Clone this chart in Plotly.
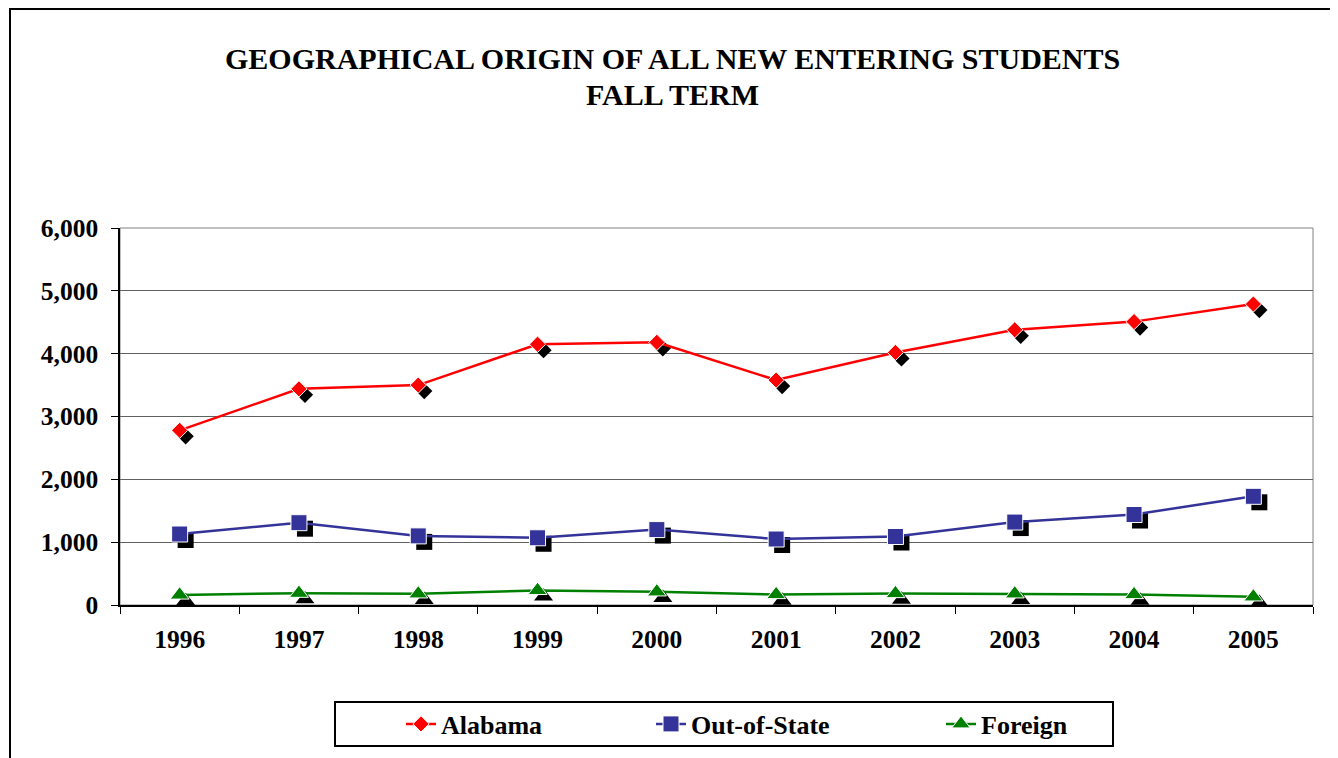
import plotly.graph_objects as go

years = ["1996", "1997", "1998", "1999", "2000", "2001", "2002", "2003", "2004", "2005"]
alabama = [2780, 3440, 3500, 4150, 4180, 3580, 4020, 4380, 4510, 4790]
out_of_state = [1130, 1310, 1100, 1070, 1200, 1050, 1090, 1320, 1440, 1730]
foreign = [160, 188, 178, 232, 210, 167, 183, 178, 167, 130]
y_ticks = [0, 1000, 2000, 3000, 4000, 5000, 6000]
title_lines = ["GEOGRAPHICAL ORIGIN OF ALL NEW ENTERING STUDENTS", "FALL TERM"]

OFF = 8  # page body margin
W, H = 1338 - OFF, 758 - OFF
ML, MR, MT, MB = 120 - OFF, 25, 228 - OFF, 153
PW, PH = W - ML - MR, H - MT - MB
YMAX = 6000
SH = 6  # shadow offset px
sx = SH / (PW / len(years))
sy = SH * YMAX / PH

FONT = "Liberation Serif, Times New Roman, Tinos, DejaVu Serif, serif"
series = [
    ("Alabama", alabama, "#FF0000", "diamond", 12.5, "legend"),
    ("Out-of-State", out_of_state, "#333399", "square", 16, "legend2"),
    ("Foreign", foreign, "#008000", "triangle-up", 16.5, "legend3"),
]

fig = go.Figure()
fig.add_trace(go.Scatter(x=years, y=alabama, mode="lines", line=dict(width=0),
                         showlegend=False, hoverinfo="skip", xaxis="x", yaxis="y"))
for name, vals, col, sym, size, lg in series:
    fig.add_trace(go.Scatter(x=years, y=vals, mode="markers",
                             marker=dict(symbol=sym, size=size, color="black"),
                             showlegend=False, hoverinfo="skip",
                             xaxis="x2", yaxis="y2"))
for name, vals, col, sym, size, lg in series:
    fig.add_trace(go.Scatter(x=years, y=vals, name=name, mode="lines+markers",
                             line=dict(color=col, width=2.5),
                             marker=dict(symbol=sym, size=size, color=col,
                                         line=dict(color="white", width=1)),
                             xaxis="x3", yaxis="y3", legend=lg))

axis_common = dict(type="category", categoryorder="array", categoryarray=years)
tick_font = dict(family=FONT, size=25.5, color="black", weight="bold")
fig.update_layout(
    width=W, height=H,
    margin=dict(l=ML, r=MR, t=MT, b=MB),
    paper_bgcolor="white", plot_bgcolor="white",
    font=dict(family=FONT, color="black"),
    xaxis=dict(**axis_common, range=[-0.5, len(years) - 0.5],
               showline=True, linecolor="black", linewidth=1.5,
               ticks="outside", tickson="boundaries", ticklen=7, tickcolor="black",
               tickfont=tick_font, ticklabelstandoff=11,
               showgrid=False, zeroline=False),
    yaxis=dict(range=[0, YMAX], tickvals=y_ticks, tickformat=",",
               showline=True, linecolor="black", linewidth=1.5,
               ticks="outside", ticklen=7, tickcolor="black",
               tickfont=tick_font, ticklabelstandoff=8,
               showgrid=True, gridcolor="#606060", gridwidth=1, zeroline=False),
    xaxis2=dict(**axis_common, overlaying="x", visible=False,
                range=[-0.5 - sx, len(years) - 0.5 - sx]),
    yaxis2=dict(overlaying="y", visible=False, range=[sy, YMAX + sy]),
    xaxis3=dict(**axis_common, overlaying="x", visible=False,
                range=[-0.5, len(years) - 0.5]),
    yaxis3=dict(overlaying="y", visible=False, range=[0, YMAX]),
    showlegend=True,
)

leg_font = dict(family=FONT, size=26, color="black", weight="bold")
leg_y = 1 - (724 - OFF) / H
for key, px in [("legend", 401), ("legend2", 651), ("legend3", 941)]:
    fig.update_layout(**{key: dict(xref="container", yref="container",
                                   x=(px - OFF) / W, y=leg_y,
                                   xanchor="left", yanchor="middle",
                                   bgcolor="rgba(0,0,0,0)", borderwidth=0,
                                   font=leg_font, orientation="h")})

def px_x(p):
    return (p - 120) / PW

def px_y(p):
    return (605 - p) / PH

fig.add_shape(type="rect", xref="paper", yref="paper", x0=0, x1=1, y0=0, y1=1,
              line=dict(color="#808080", width=1), layer="below")
fig.add_shape(type="rect", xref="paper", yref="paper",
              x0=px_x(335), x1=px_x(1113), y0=px_y(746), y1=px_y(702),
              line=dict(color="black", width=2))
fig.add_shape(type="rect", xref="paper", yref="paper",
              x0=px_x(10), x1=px_x(1336), y0=px_y(775), y1=px_y(9),
              line=dict(color="black", width=2))

for txt, yc in zip(title_lines, [58, 95]):
    fig.add_annotation(text=txt, xref="paper", yref="paper",
                       x=px_x(672), y=px_y(yc), xanchor="center", yanchor="middle",
                       showarrow=False,
                       font=dict(family=FONT, size=30, color="black", weight="bold"))

fig.write_html("out.html")
